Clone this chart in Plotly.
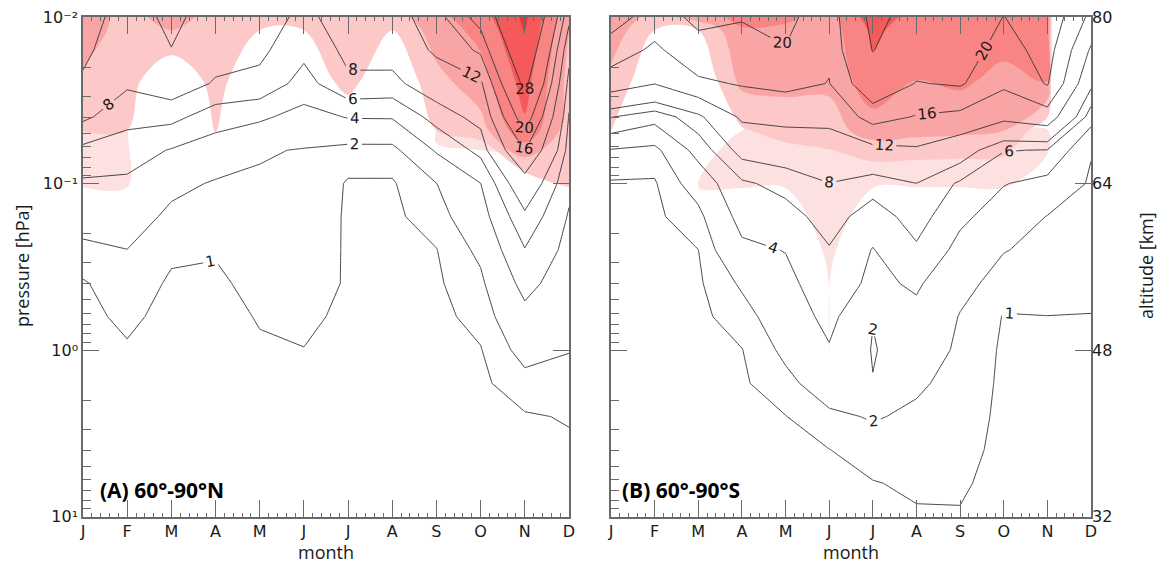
import numpy as np
import plotly.graph_objects as go

# ---------------- data ----------------
months = ["J", "F", "M", "A", "M", "J", "J", "A", "S", "O", "N", "D"]
pressure_hpa = [0.01, 0.0158, 0.0251, 0.0398, 0.0631, 0.1, 0.158, 0.251,
                0.398, 0.631, 1.0, 1.585, 2.512, 3.981, 6.31, 10.0]
contour_levels = [1, 2, 4, 6, 8, 12, 16, 20, 28]

# Panel A (60-90N): one profile per month, values from top (0.01 hPa) to bottom (10 hPa)
north_profiles = [
    [14, 12.9, 11.4, 8.4, 5.5, 3.7, 2.65, 1.68, 0.9, 0.75, 0.6, 0.5, 0.4, 0.3, 0.25, 0.2],
    [10, 9.2, 8.3, 6.7, 4.9, 3.65, 2.8, 1.98, 1.59, 1.2, 0.9, 0.75, 0.6, 0.5, 0.4, 0.3],
    [13, 11.9, 9.36, 6.6, 3.87, 2.41, 1.66, 1.19, 0.85, 0.7, 0.55, 0.45, 0.35, 0.3, 0.25, 0.2],
    [10, 8.97, 7.77, 4.95, 2.96, 1.86, 1.46, 1.07, 0.85, 0.7, 0.55, 0.45, 0.35, 0.3, 0.25, 0.2],
    [9, 8.45, 7.44, 4.33, 2.13, 1.82, 1.63, 1.44, 1.26, 1.06, 0.9, 0.75, 0.6, 0.5, 0.4, 0.3],
    [7.5, 6.53, 5.2, 3.28, 1.92, 1.85, 1.8, 1.75, 1.7, 1.3, 0.97, 0.8, 0.65, 0.5, 0.4, 0.3],
    [9, 8.48, 7.68, 4.11, 1.54, 0.9, 0.85, 0.85, 0.85, 0.7, 0.6, 0.5, 0.45, 0.4, 0.35, 0.3],
    [10, 8.9, 7.4, 4.15, 1.54, 0.9, 0.8, 0.75, 0.7, 0.65, 0.6, 0.5, 0.45, 0.4, 0.35, 0.3],
    [14.5, 12.7, 9.5, 6.8, 4.2, 1.98, 1.46, 0.97, 0.85, 0.75, 0.65, 0.55, 0.5, 0.45, 0.4, 0.35],
    [22, 16.7, 11.3, 8.8, 6.6, 3.98, 3.14, 2.3, 1.73, 1.3, 0.95, 0.8, 0.7, 0.6, 0.5, 0.45],
    [40, 34.9, 29.7, 22.7, 16.2, 10.2, 7.5, 5.9, 4.6, 3.46, 2.48, 1.58, 0.9, 0.8, 0.7, 0.6],
    [13, 9.1, 7.04, 5.85, 5.16, 4.45, 3.83, 3.38, 2.92, 2.46, 2.05, 1.54, 1.07, 0.85, 0.7, 0.6],
]

# Panel B (60-90S)
south_profiles = [
    [22, 18, 14, 6.1, 1.88, 0.9, 0.8, 0.7, 0.6, 0.55, 0.5, 0.45, 0.4, 0.35, 0.3, 0.25],
    [18, 15.3, 12.1, 4.7, 1.55, 0.9, 0.8, 0.7, 0.6, 0.55, 0.5, 0.45, 0.4, 0.35, 0.3, 0.25],
    [21, 18.55, 15.3, 7.35, 4.7, 2.72, 1.6, 0.99, 0.85, 0.75, 0.65, 0.55, 0.5, 0.45, 0.4, 0.35],
    [20.3, 18.3, 16.3, 12.6, 8.87, 5.66, 4.68, 3.58, 2.19, 1.5, 0.97, 0.85, 0.75, 0.65, 0.55, 0.5],
    [21.3, 19.8, 17.0, 13.1, 9.5, 6.68, 5.19, 4.06, 3.45, 2.87, 2.3, 1.65, 0.97, 0.85, 0.75, 0.65],
    [17, 16.5, 15.9, 12.9, 10.3, 7.95, 6.86, 5.86, 5.2, 4.55, 3.84, 2.74, 1.75, 0.98, 0.85, 0.75],
    [30, 28.25, 23.7, 17.5, 10.9, 6.9, 5.0, 3.91, 3.55, 2.05, 1.9, 2.05, 2.1, 1.5, 0.95, 0.85],
    [25, 22.4, 19.8, 15.75, 11.55, 7.98, 6.87, 5.7, 4.28, 3.48, 2.83, 2.19, 1.78, 1.47, 1.16, 0.9],
    [24, 22.2, 20.45, 14.96, 9.46, 5.68, 4.42, 3.39, 2.46, 1.92, 1.76, 1.6, 1.43, 1.27, 1.1, 0.95],
    [19.9, 18.3, 16.7, 12.85, 6.1, 4.09, 3.05, 2.06, 1.44, 0.95, 0.85, 0.82, 0.8, 0.78, 0.75, 0.7],
    [23, 21.6, 20.3, 14.2, 5.9, 3.36, 1.95, 1.63, 1.31, 0.99, 0.9, 0.85, 0.8, 0.78, 0.75, 0.7],
    [15, 11.5, 8.6, 4.8, 2.1, 1.8, 1.6, 1.4, 1.18, 0.98, 0.9, 0.85, 0.8, 0.78, 0.75, 0.7],
]

# Shading field (coarse grid), band classes: 1 lightest ... 6 darkest
shade_pressure_hpa = [0.01, 0.012, 0.024, 0.048, 0.105, 0.288, 1.0, 10.0]

north_shade_dark = [
    [3.8, 3.6, 2.8, 2.02, 0.5, 0, 0, 0],
    [2.5, 2.5, 2.45, 2.0, 0.5, 0, 0, 0],
    [3.6, 3.0, 1.0, 0.5, 0.5, 0, 0, 0],
    [2.5, 2.5, 2.4, 2.05, 0.5, 0, 0, 0],
    [2.5, 2.0, 1.0, 0.5, 0.5, 0, 0, 0],
    [2.5, 2.0, 1.2, 0.5, 0.5, 0, 0, 0],
    [2.6, 2.5, 2.4, 1.0, 0.5, 0, 0, 0],
    [2.5, 2.0, 1.0, 0.5, 0.5, 0, 0, 0],
    [3.7, 3.5, 2.7, 2.0, 0.5, 0, 0, 0],
    [4.6, 4.3, 3.6, 2.6, -0.8, 0, 0, 0],
    [6.2, 6.05, 5.4, 4.8, 1.0, 0, 0, 0],
    [3.2, 3.0, 2.7, 2.5, 2.0, 0, 0, 0],
]
north_shade_light = [
    [1.5, 1.5, 1.5, 1.5, 1.05, -30, -30, -30],
    [1.5, 1.5, 1.5, 1.5, 1.05, -30, -30, -30],
    [-30, -30, -30, -30, -30, -30, -30, -30],
    [-30, -30, -30, -30, -30, -30, -30, -30],
    [-30, -30, -30, -30, -30, -30, -30, -30],
    [-30, -30, -30, -30, -30, -30, -30, -30],
    [-30, -30, -30, -30, -30, -30, -30, -30],
    [-30, -30, -30, -30, -30, -30, -30, -30],
    [1.5, 1.5, 1.5, 1.5, -0.69, -30, -30, -30],
    [1.5, 1.5, 1.5, 1.5, 0.075, -30, -30, -30],
    [1.5, 1.5, 1.5, 1.5, 0.44, -30, -30, -30],
    [1.5, 1.5, 1.5, 1.5, 1.05, -30, -30, -30],
]
south_shade_dark = [
    [3.8, 3.6, 2.7, 2.02, 0.5, 0, 0, 0],
    [2.6, 2.0, 1.24, 0.5, 0.5, 0, 0, 0],
    [3.5, 2.0, 1.0, 0.5, 0.5, 0, 0, 0],
    [4.3, 3.9, 3.3, 1.9, 0.5, 0, 0, 0],
    [4.2, 3.8, 3.3, 2.4, 0.5, 0, 0, 0],
    [3.6, 3.5, 3.2, 2.6, 0.8, 0, 0, 0],
    [5.6, 5.2, 4.7, 3.45, 0.8, 0, 0, 0],
    [4.6, 4.5, 4.0, 3.3, 0.8, 0, 0, 0],
    [4.6, 4.5, 4.2, 3.2, 0.8, 0, 0, 0],
    [4.6, 4.5, 3.7, 3.0, 0.8, 0, 0, 0],
    [4.5, 4.4, 4.1, 1.25, 0.5, 0, 0, 0],
    [-20, -20, -20, -20, -20, 0, 0, 0],
]
south_shade_light = [
    [-30, -30, -30, -30, -30, -30, -30, -30],
    [-30, -30, -30, -30, -30, -30, -30, -30],
    [-30, -30, -30, -30, 1.0, -30, -30, -30],
    [-30, -30, -30, 1.0, 1.5, -30, -30, -30],
    [-30, -30, -30, 1.5, 1.05, -2, -30, -30],
    [-30, -30, -30, 1.5, 1.5, 1.3, 1.02, -30],
    [-30, -30, -30, 1.5, 1.05, -2, -30, -30],
    [-30, -30, -30, 1.5, 1.05, -30, -30, -30],
    [-30, -30, -30, 1.5, 1.05, -30, -30, -30],
    [-30, -30, -30, 1.5, 1.05, -30, -30, -30],
    [-30, -30, -30, 1.5, 0.3, -30, -30, -30],
    [-30, -30, -30, -30, -30, -30, -30, -30],
]

altitude_labels = ["80", "64", "48", "32"]
pressure_labels = ["10⁻²", "10⁻¹", "10⁰", "10¹"]

# ---------------- styling ----------------
TRANSP = "rgba(255,255,255,0)"
C1, C2, C3, C4, C5, C6 = "#fde0e0", "#fcc8c8", "#faa5a5", "#f88484", "#f45a5a", "#ee3333"
LINE = "#333333"
AX = "#6a6a6a"
TXT = "#1a1a1a"

# the page body has an 8 px margin: size the figure so that it fits the window exactly
OFF = 8
W, H = 1169 - 2 * OFF, 572 - 2 * OFF


def px(x):
    return (x - OFF) / W


def py(y):
    return 1 - (y - OFF) / H


xA = [px(83), px(569)]
xB = [px(611), px(1091)]
yD = [py(516.5), py(17)]

month_x = list(range(12))
ylog = np.log10(pressure_hpa)
ylog_shade = np.log10(shade_pressure_hpa)

fig = go.Figure()


def add_panel(profiles, shade_dark, shade_light, xa, ya):
    fig.add_trace(go.Contour(
        x=month_x, y=ylog_shade, z=np.array(shade_light).T,
        autocontour=False,
        contours=dict(start=1, end=1, size=1, coloring="fill", showlines=False),
        colorscale=[[0, TRANSP], [1, C1]], showscale=False,
        line=dict(width=0), hoverinfo="skip", xaxis=xa, yaxis=ya))
    fig.add_trace(go.Contour(
        x=month_x, y=ylog_shade, z=np.array(shade_dark).T,
        autocontour=False,
        contours=dict(start=2, end=6, size=1, coloring="fill", showlines=False),
        colorscale=[[0, TRANSP], [0.2, C2], [0.4, C3], [0.6, C4], [0.8, C5], [1, C6]],
        showscale=False, line=dict(width=0), hoverinfo="skip", xaxis=xa, yaxis=ya))
    z = np.array(profiles).T
    for lev in contour_levels:
        fig.add_trace(go.Contour(
            x=month_x, y=ylog, z=z, autocontour=False,
            contours=dict(start=lev, end=lev, size=1, coloring="none",
                          showlabels=True,
                          labelfont=dict(size=15, color=TXT, family="DejaVu Sans")),
            line=dict(color=LINE, width=0.9, smoothing=0),
            showscale=False, hoverinfo="skip", xaxis=xa, yaxis=ya))


add_panel(north_profiles, north_shade_dark, north_shade_light, "x", "y")
add_panel(south_profiles, south_shade_dark, south_shade_light, "x2", "y2")

# invisible anchors so the right-hand (mirror) axes are drawn
for xa, ya in (("x", "y3"), ("x2", "y4")):
    fig.add_trace(go.Scatter(x=[None], y=[None], mode="markers", xaxis=xa, yaxis=ya,
                             hoverinfo="skip", showlegend=False))

minor_vals = [float(np.log10(k * 10.0 ** n)) for n in (-2, -1, 0) for k in range(2, 10)]
tickfont = dict(size=16, color=TXT, family="DejaVu Sans")


def xaxis(domain, anchor):
    return dict(domain=domain, anchor=anchor, range=[0, 11], tickmode="array",
                tickvals=month_x, ticktext=months, ticks="inside", ticklen=17,
                tickwidth=1, tickcolor=AX, showline=True, linecolor=AX, linewidth=1.5,
                mirror="ticks", showgrid=False, zeroline=False, tickfont=tickfont,
                automargin=False, ticklabeloverflow="allow",
                minor=dict(ticks="inside", ticklen=4, dtick=0.2, tick0=0,
                           tickcolor=AX, showgrid=False))


def yaxis_left(anchor, labels):
    return dict(domain=yD, anchor=anchor, range=[1, -2], tickmode="array",
                tickvals=[-2, -1, 0, 1], ticktext=pressure_labels,
                showticklabels=labels, ticks="inside", ticklen=16, tickwidth=1,
                tickcolor=AX, showline=True, linecolor=AX, linewidth=1.5, mirror=True,
                showgrid=False, zeroline=False, tickfont=tickfont, automargin=False,
                ticklabeloverflow="allow",
                minor=dict(tickmode="array", tickvals=minor_vals, ticks="inside",
                           ticklen=8, tickcolor=AX, showgrid=False))


def yaxis_right(over, anchor, labels):
    return dict(overlaying=over, side="right", anchor=anchor, range=[1, -2],
                tickmode="array", tickvals=[-2, -1, 0, 1], ticktext=altitude_labels,
                showticklabels=labels, ticks="inside", ticklen=16, tickwidth=1,
                tickcolor=AX, showline=False, showgrid=False, zeroline=False,
                tickfont=tickfont, automargin=False, ticklabeloverflow="allow")


fig.update_layout(
    width=W, height=H, margin=dict(l=0, r=0, t=0, b=0, autoexpand=False),
    paper_bgcolor="white", plot_bgcolor="white", showlegend=False,
    font=dict(family="DejaVu Sans", color=TXT),
    xaxis=xaxis(xA, "y"), xaxis2=xaxis(xB, "y2"),
    yaxis=yaxis_left("x", True), yaxis2=yaxis_left("x2", False),
    yaxis3=yaxis_right("y", "x", False), yaxis4=yaxis_right("y2", "x2", True),
)

title_font = dict(size=18, color=TXT, family="Open Sans")
anns = [
    dict(text="pressure [hPa]", x=px(22), y=py(266), textangle=-90),
    dict(text="altitude [km]", x=px(1146), y=py(266), textangle=-90),
    dict(text="month", x=(xA[0] + xA[1]) / 2, y=py(552)),
    dict(text="month", x=(xB[0] + xB[1]) / 2, y=py(552)),
]
for a in anns:
    fig.add_annotation(xref="paper", yref="paper", showarrow=False,
                       xanchor="center", yanchor="middle", font=title_font, **a)
for txt, xp in (("<b>(A) 60°-90°N</b>", px(98)), ("<b>(B) 60°-90°S</b>", px(620))):
    fig.add_annotation(text=txt, xref="paper", yref="paper", x=xp, y=py(490),
                       xanchor="left", yanchor="middle", showarrow=False,
                       font=dict(size=21, color="#000", family="Open Sans"))

fig.write_html("out.html")
